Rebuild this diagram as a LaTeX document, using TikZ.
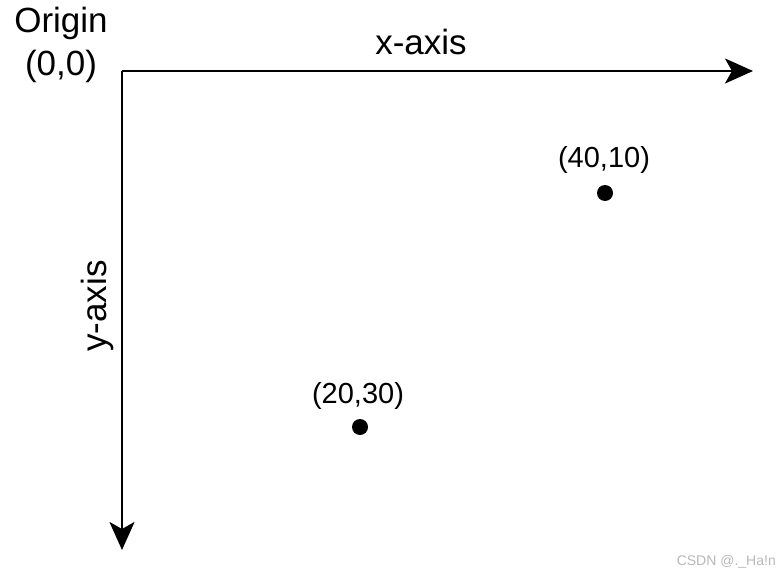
\documentclass[tikz,border=0pt]{standalone}
\usepackage{fontspec}
\setmainfont{Liberation Sans}
\usetikzlibrary{arrows.meta}
\tikzstyle{axis} = [
    line width=2.5pt,
    -{Stealth[length=28pt,width=25pt,inset=7pt]}
]
\tikzstyle{biglabel} = [
    inner sep=0pt,
    font=\fontsize{35}{40}\selectfont
]
\tikzstyle{ptlabel} = [
    inner sep=0pt,
    anchor=base,
    font=\fontsize{29}{34}\selectfont
]
\tikzstyle{dot} = [
    circle,
    fill=black,
    inner sep=0pt,
    minimum size=16pt
]

\begin{document}
\begin{tikzpicture}[x=1pt, y=-1pt]
\useasboundingbox (0,0) rectangle (781,575);

\coordinate (origin) at (122,71);
\coordinate (xend) at (753,71);
\coordinate (yend) at (122,550);

\node (originname) [biglabel, anchor=base] at (61,33) {Origin};
\node (originxy) [biglabel, anchor=base] at (61,76) {(0,0)};

\node (xlabel) [biglabel, anchor=base] at (421,55) {x-axis};
\node (ylabel) [biglabel, rotate=90] at (97,306) {y-axis};

\node (ptA) [dot] at (605,193) {};
\node (ptAlabel) [ptlabel] at (604,167) {(40,10)};

\node (ptB) [dot] at (360,427) {};
\node (ptBlabel) [ptlabel] at (358,403) {(20,30)};

\draw [axis] (origin) -- (xend);
\draw [axis] (origin) -- (yend);

\node (mark) [inner sep=0pt, anchor=base east, text=black!28,
    font=\fontsize{14}{16}\selectfont] at (776,565) {CSDN @.\_Ha!n};

\end{tikzpicture}
\end{document}
